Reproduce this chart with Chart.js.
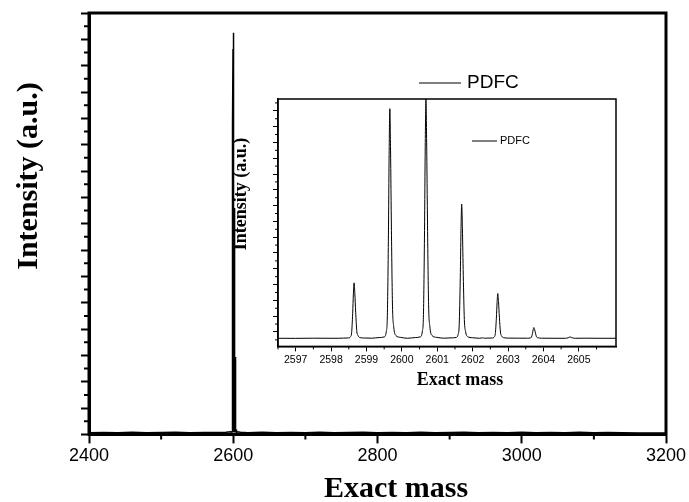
<!DOCTYPE html>
<html>
<head>
<meta charset="utf-8">
<script src="https://cdn.jsdelivr.net/npm/chart.js@4.4.1/dist/chart.umd.min.js"></script>
<style>
    html, body { margin: 0; padding: 0; background: #fff; }
    #wrap { position: relative; width: 689px; height: 502px; }
    #main { position: absolute; left: 0; top: 0; }
    #inset { position: absolute; left: 220px; top: 90px; }
</style>
</head>
<body>
<div id="wrap">
    <canvas id="main" width="689" height="502"></canvas>
    <canvas id="inset" width="410" height="310"></canvas>
</div>
<script>
const seriesLabel = 'PDFC';

// survey spectrum baseline below and above the isotope cluster
const surveyMassLow = [2400, 2420, 2440, 2460, 2480, 2500, 2520, 2540, 2560, 2580, 2590];
const surveyIntLow = [0.12, 0.15, 0.13, 0.16, 0.12, 0.14, 0.17, 0.13, 0.15, 0.14, 0.16];
const surveyMassHigh = [2610, 2620, 2640, 2660, 2680, 2700, 2720, 2740, 2760, 2780, 2800,
    2820, 2840, 2860, 2880, 2900, 2920, 2940, 2960, 2980, 3000, 3020, 3040, 3060, 3080,
    3100, 3120, 3140, 3160, 3180, 3200];
const surveyIntHigh = [0.16, 0.13, 0.16, 0.12, 0.15, 0.13, 0.16, 0.12, 0.14, 0.16, 0.13,
    0.15, 0.12, 0.16, 0.13, 0.14, 0.16, 0.12, 0.15, 0.13, 0.16, 0.12, 0.14, 0.13, 0.16,
    0.12, 0.15, 0.13, 0.11, 0.10, 0.10];

// isotope cluster around 2600
const clusterMass = [
    2596.5, 2597.0, 2597.5, 2598.0, 2598.2,
    2598.35, 2598.49, 2598.55, 2598.58, 2598.61, 2598.63, 2598.65, 2598.67, 2598.695, 2598.725, 2598.76, 2598.82, 2598.95,
    2599.15,
    2599.36, 2599.50, 2599.56, 2599.59, 2599.62, 2599.64, 2599.66, 2599.68, 2599.705, 2599.735, 2599.77, 2599.83, 2599.96,
    2600.15,
    2600.38, 2600.52, 2600.58, 2600.61, 2600.64, 2600.66, 2600.68, 2600.70, 2600.725, 2600.755, 2600.79, 2600.85, 2600.98,
    2601.18,
    2601.39, 2601.53, 2601.59, 2601.62, 2601.65, 2601.67, 2601.69, 2601.71, 2601.735, 2601.765, 2601.80, 2601.86, 2601.99,
    2602.20, 2602.28, 2602.34,
    2602.41, 2602.55, 2602.61, 2602.64, 2602.67, 2602.69, 2602.71, 2602.73, 2602.755, 2602.785, 2602.82, 2602.88, 2603.01,
    2603.30,
    2603.55, 2603.63, 2603.66, 2603.69, 2603.71, 2603.73, 2603.75, 2603.775, 2603.805, 2603.84, 2603.95,
    2604.30,
    2604.62, 2604.70, 2604.75, 2604.80, 2604.90,
    2605.20, 2605.60, 2606.05
];
const clusterInt = [
    0.20, 0.19, 0.21, 0.20, 0.20,
    0.22, 0.24, 0.41, 0.90, 3.36, 5.82, 7.22, 5.96, 3.50, 1.18, 0.55, 0.28, 0.23,
    0.21,
    0.29, 0.37, 1.07, 3.11, 13.28, 23.46, 29.27, 24.04, 13.86, 4.27, 1.65, 0.55, 0.32,
    0.20,
    0.29, 0.38, 1.11, 3.23, 13.84, 24.44, 30.50, 25.05, 14.44, 4.44, 1.72, 0.56, 0.32,
    0.21,
    0.25, 0.30, 0.71, 1.90, 7.85, 13.80, 17.20, 14.14, 8.19, 2.58, 1.05, 0.40, 0.27,
    0.20, 0.26, 0.20,
    0.22, 0.23, 0.37, 0.77, 2.75, 4.74, 5.87, 4.85, 2.86, 0.99, 0.48, 0.27, 0.22,
    0.21,
    0.21, 0.24, 0.34, 0.81, 1.29, 1.56, 1.32, 0.84, 0.39, 0.27, 0.21,
    0.20,
    0.20, 0.26, 0.38, 0.27, 0.20,
    0.21, 0.20, 0.20
];

const surveyTicks = [2400, 2600, 2800, 3000, 3200];
const surveyIntTicks = [0, 2, 4, 6, 8, 10, 12, 14, 16, 18, 20, 22, 24, 26, 28, 30, 32];
const clusterTicks = [2597, 2598, 2599, 2600, 2601, 2602, 2603, 2604, 2605];
const clusterIntTicks = [1, 3, 5, 7, 9, 11, 13, 15, 17, 19, 21, 23, 25, 27, 29];

const sans = "'Liberation Sans', Arial, sans-serif";
const serif = "'Liberation Serif', 'Times New Roman', serif";

const toPoints = (xs, ys) => xs.map((x, i) => ({ x: x, y: ys[i] }));
const surveyPoints = toPoints(surveyMassLow, surveyIntLow)
    .concat(toPoints(clusterMass, clusterInt))
    .concat(toPoints(surveyMassHigh, surveyIntHigh));
const clusterPoints = toPoints(clusterMass, clusterInt);

const fixedTicks = (list) => (scale) => { scale.ticks = list.map((v) => ({ value: v })); };
const noSidePadding = (scale) => { scale.paddingLeft = 0; scale.paddingRight = 0; };

// short ticks half way between the labelled ones
function minorTicks(specs) {
    return {
        id: 'minorTicks',
        afterDraw(chart) {
            const ctx = chart.ctx;
            const area = chart.chartArea;
            ctx.save();
            ctx.strokeStyle = '#000';
            specs.forEach((s) => {
                const scale = chart.scales[s.axis];
                const major = scale.ticks.map((t) => t.value);
                const step = major[1] - major[0];
                ctx.lineWidth = s.width;
                ctx.beginPath();
                for (let v = major[0] - step / 2; v <= scale.max + 1e-9; v += step) {
                    if (v < scale.min - 1e-9) continue;
                    const p = scale.getPixelForValue(v);
                    if (scale.isHorizontal()) {
                        ctx.moveTo(p, area.bottom);
                        ctx.lineTo(p, area.bottom + s.length);
                    } else {
                        ctx.moveTo(area.left, p);
                        ctx.lineTo(area.left - s.length, p);
                    }
                }
                ctx.stroke();
            });
            ctx.restore();
        }
    };
}

function frame(width) {
    return {
        id: 'frame',
        afterDraw(chart) {
            const a = chart.chartArea;
            const ctx = chart.ctx;
            ctx.save();
            ctx.lineWidth = width;
            ctx.strokeStyle = '#000';
            ctx.strokeRect(a.left, a.top, a.right - a.left, a.bottom - a.top);
            ctx.restore();
        }
    };
}

function legendAt(pos) {
    return {
        id: 'legendAt',
        afterDraw(chart) {
            const ds = chart.data.datasets[0];
            const ctx = chart.ctx;
            ctx.save();
            ctx.strokeStyle = ds.borderColor;
            ctx.lineWidth = 1;
            ctx.beginPath();
            ctx.moveTo(pos.x, pos.y);
            ctx.lineTo(pos.x + pos.line, pos.y);
            ctx.stroke();
            ctx.fillStyle = '#000';
            ctx.font = pos.font;
            ctx.textAlign = 'left';
            ctx.textBaseline = 'middle';
            ctx.fillText(ds.label, pos.x + pos.line + pos.gap, pos.y);
            ctx.restore();
        }
    };
}

function captions(items) {
    return {
        id: 'captions',
        afterDraw(chart) {
            const ctx = chart.ctx;
            items.forEach((it) => {
                ctx.save();
                ctx.translate(it.x, it.y);
                if (it.rotate) ctx.rotate(it.rotate);
                ctx.font = it.font;
                ctx.fillStyle = '#000';
                ctx.textAlign = 'center';
                ctx.textBaseline = it.baseline || 'middle';
                ctx.fillText(it.text, 0, 0);
                ctx.restore();
            });
        }
    };
}

new Chart(document.getElementById('main'), {
    type: 'line',
    data: {
        datasets: [{
            label: seriesLabel,
            data: surveyPoints,
            borderColor: '#000',
            borderWidth: 1.5,
            pointRadius: 0,
            tension: 0
        }]
    },
    options: {
        responsive: false,
        animation: false,
        events: [],
        layout: { padding: { left: 81, top: 13, right: 23, bottom: 33 } },
        plugins: { legend: { display: false }, tooltip: { enabled: false } },
        scales: {
            x: {
                type: 'linear',
                min: 2400,
                max: 3200,
                afterBuildTicks: fixedTicks(surveyTicks),
                afterFit: noSidePadding,
                grid: { drawOnChartArea: false, tickLength: 9, tickWidth: 2, tickColor: '#000' },
                border: { color: '#000', width: 3 },
                ticks: {
                    color: '#000', padding: 2, maxRotation: 0, autoSkip: false,
                    font: { family: sans, size: 18 },
                    callback: (v) => String(v)
                }
            },
            y: {
                min: 0,
                max: 32,
                afterBuildTicks: fixedTicks(surveyIntTicks),
                grid: { drawOnChartArea: false, tickLength: 8, tickWidth: 2, tickColor: '#000' },
                border: { color: '#000', width: 3 },
                ticks: { display: false }
            }
        }
    },
    plugins: [
        frame(3),
        minorTicks([{ axis: 'x', length: 5, width: 2 }, { axis: 'y', length: 5, width: 2 }]),
        legendAt({ x: 419, y: 83, line: 42, gap: 6, font: '19px ' + sans }),
        captions([
            { text: 'Exact mass', x: 396, y: 497, font: 'bold 30px ' + serif, baseline: 'alphabetic' },
            { text: 'Intensity (a.u.)', x: 29, y: 176, rotate: -Math.PI / 2, font: 'bold 30px ' + serif }
        ])
    ]
});

new Chart(document.getElementById('inset'), {
    type: 'line',
    data: {
        datasets: [{
            label: seriesLabel,
            data: clusterPoints,
            borderColor: '#000',
            borderWidth: 1,
            pointRadius: 0,
            cubicInterpolationMode: 'monotone'
        }]
    },
    options: {
        responsive: false,
        animation: false,
        events: [],
        layout: { padding: { left: 53, top: 9, right: 14, bottom: 32 } },
        plugins: { legend: { display: false }, tooltip: { enabled: false } },
        scales: {
            x: {
                type: 'linear',
                min: 2596.5,
                max: 2606.05,
                afterBuildTicks: fixedTicks(clusterTicks),
                afterFit: noSidePadding,
                grid: { drawOnChartArea: false, tickLength: 5, tickWidth: 1, tickColor: '#000' },
                border: { color: '#000', width: 1.5 },
                ticks: {
                    color: '#000', padding: 2, maxRotation: 0, autoSkip: false,
                    font: { family: sans, size: 10.5 },
                    callback: (v) => String(v)
                }
            },
            y: {
                min: -0.83,
                max: 30.5,
                afterBuildTicks: fixedTicks(clusterIntTicks),
                grid: { drawOnChartArea: false, tickLength: 5, tickWidth: 1, tickColor: '#000' },
                border: { color: '#000', width: 1.5 },
                ticks: { display: false }
            }
        }
    },
    plugins: [
        frame(1.5),
        minorTicks([{ axis: 'x', length: 3, width: 1 }, { axis: 'y', length: 3, width: 1 }]),
        legendAt({ x: 252, y: 51, line: 25, gap: 3, font: '11px ' + sans }),
        captions([
            { text: 'Exact mass', x: 240, y: 295, font: 'bold 18px ' + serif, baseline: 'alphabetic' },
            { text: 'Intensity (a.u.)', x: 21, y: 104, rotate: -Math.PI / 2, font: 'bold 18px ' + serif }
        ])
    ]
});
</script>
</body>
</html>
